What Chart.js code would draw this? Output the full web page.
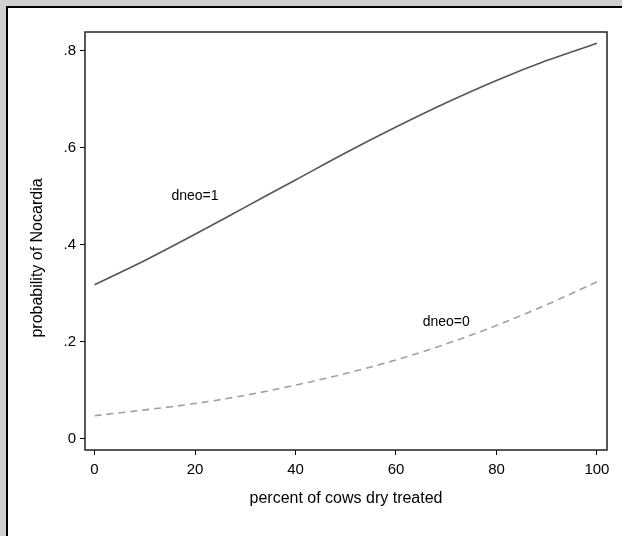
<!DOCTYPE html>
<html>
<head>
<meta charset="utf-8">
<script src="https://cdn.jsdelivr.net/npm/chart.js@4/dist/chart.umd.min.js"></script>
<style>
  html, body { margin: 0; padding: 0; background: #d0d0d0; }
  #wrap { width: 622px; height: 536px; }
</style>
</head>
<body>
<div id="wrap"><canvas id="nocardiaChart" width="622" height="536"></canvas></div>
<script>
// values
const pctDry = [0, 10, 20, 30, 40, 50, 60, 70, 80, 90, 100];
const probDneo1 = [0.318, 0.368, 0.422, 0.478, 0.534, 0.590, 0.643, 0.693, 0.739, 0.780, 0.816];
const probDneo0 = [0.048, 0.060, 0.073, 0.090, 0.111, 0.135, 0.163, 0.196, 0.234, 0.277, 0.324];
const xTicks = [0, 20, 40, 60, 80, 100];
const yTicks = [0, 0.2, 0.4, 0.6, 0.8];
const curveLabels = [
    { text: 'dneo=1', x: 20, y: 0.5 },
    { text: 'dneo=0', x: 70, y: 0.24 }
];

const FONT = '"Liberation Sans", Arial, sans-serif';

function toPoints(xs, ys) {
    return xs.map((x, i) => ({ x: x, y: ys[i] }));
}

const stataLook = {
    id: 'stataLook',
    beforeDraw(chart) {
        const ctx = chart.ctx;
        ctx.save();
        ctx.fillStyle = '#d0d0d0';
        ctx.fillRect(0, 0, chart.width, chart.height);
        ctx.fillStyle = '#000';
        ctx.fillRect(6, 6, chart.width, chart.height);
        ctx.fillStyle = '#fff';
        ctx.fillRect(8, 8, chart.width, chart.height);
        ctx.restore();
    },
    afterDraw(chart) {
        const ctx = chart.ctx;
        const a = chart.chartArea;
        const xs = chart.scales.x;
        const ys = chart.scales.y;
        ctx.save();
        // plot frame
        ctx.strokeStyle = '#222';
        ctx.lineWidth = 1.5;
        ctx.strokeRect(a.left, a.top, a.right - a.left, a.bottom - a.top);
        // curve labels
        ctx.fillStyle = '#000';
        ctx.font = '14px ' + FONT;
        ctx.textAlign = 'center';
        ctx.textBaseline = 'middle';
        curveLabels.forEach(l => {
            ctx.fillText(l.text, xs.getPixelForValue(l.x), ys.getPixelForValue(l.y));
        });
        // y axis title
        ctx.font = '16px ' + FONT;
        ctx.translate(38, 258);
        ctx.rotate(-Math.PI / 2);
        ctx.fillText('probability of Nocardia', 0, 0);
        ctx.restore();
    }
};

const ctx = document.getElementById('nocardiaChart').getContext('2d');
new Chart(ctx, {
    type: 'line',
    data: {
        datasets: [
            {
                label: 'dneo=1',
                data: toPoints(pctDry, probDneo1),
                borderColor: '#555555',
                borderWidth: 1.6,
                pointRadius: 0,
                cubicInterpolationMode: 'monotone',
                fill: false
            },
            {
                label: 'dneo=0',
                data: toPoints(pctDry, probDneo0),
                borderColor: '#a0a0a0',
                borderWidth: 1.6,
                borderDash: [7, 5],
                pointRadius: 0,
                cubicInterpolationMode: 'monotone',
                fill: false
            }
        ]
    },
    options: {
        responsive: false,
        animation: false,
        layout: { padding: { top: 32, right: 15, left: 0, bottom: 0 } },
        plugins: {
            legend: { display: false },
            tooltip: { enabled: false }
        },
        scales: {
            x: {
                type: 'linear',
                min: -1.9,
                max: 102,
                afterBuildTicks: scale => { scale.ticks = xTicks.map(v => ({ value: v })); },
                afterFit: scale => { scale.height = 86; },
                grid: { drawOnChartArea: false, drawTicks: true, tickLength: 5, tickColor: '#000', tickWidth: 1 },
                border: { display: false },
                ticks: {
                    color: '#000',
                    padding: 6,
                    maxRotation: 0,
                    font: { family: FONT, size: 15 },
                    callback: v => String(v)
                },
                title: {
                    display: true,
                    text: 'percent of cows dry treated',
                    color: '#000',
                    font: { family: FONT, size: 16 },
                    padding: { top: 0, bottom: 28 }
                }
            },
            y: {
                type: 'linear',
                min: -0.0227,
                max: 0.839,
                afterBuildTicks: scale => { scale.ticks = yTicks.map(v => ({ value: v })); },
                afterFit: scale => { scale.width = 85; },
                grid: { drawOnChartArea: false, drawTicks: true, tickLength: 5, tickColor: '#000', tickWidth: 1 },
                border: { display: false },
                ticks: {
                    color: '#000',
                    padding: 4,
                    font: { family: FONT, size: 15 },
                    callback: v => v === 0 ? '0' : v.toFixed(1).replace(/^0/, '')
                }
            }
        }
    },
    plugins: [stataLook]
});
</script>
</body>
</html>
